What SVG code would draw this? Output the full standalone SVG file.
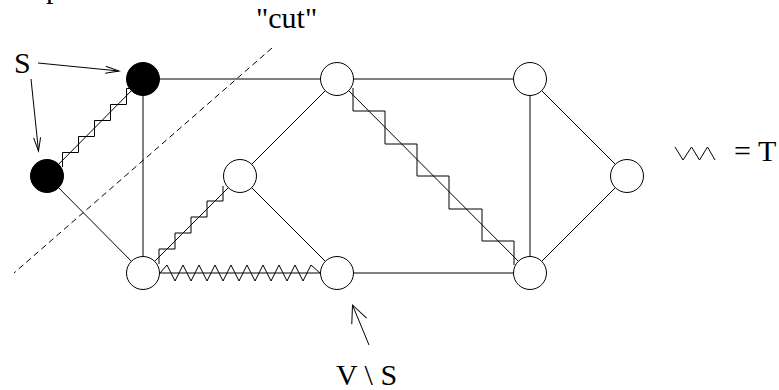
<svg xmlns="http://www.w3.org/2000/svg" width="779" height="390" viewBox="0 0 779 390">
  <style>
    .edge { stroke: #000; stroke-width: 1; fill: none; }
    .tree { stroke: #000; stroke-width: 1; fill: none; stroke-linejoin: miter; }
    .cut { stroke: #000; stroke-width: 1; fill: none; stroke-dasharray: 6 4; }
    .arrow { stroke: #000; stroke-width: 1; fill: none; }
    .node { stroke: #000; stroke-width: 1; fill: #fff; }
    .snode { stroke: #000; stroke-width: 1; fill: #000; }
    .lbl { font-family: "Liberation Serif", "Times New Roman", serif; font-size: 30px; fill: #000; }
  </style>
  <defs>
    <marker id="ah" markerUnits="userSpaceOnUse" viewBox="0 0 14 8" markerWidth="14" markerHeight="8" refX="13.5" refY="4" orient="auto" overflow="visible">
      <path d="M0,0.5 L13.5,4 L0,7.5" fill="none" stroke="#000" stroke-width="1"/>
    </marker>
    <marker id="ahBig" markerUnits="userSpaceOnUse" viewBox="0 0 18 16" markerWidth="18" markerHeight="16" refX="17.5" refY="8" orient="auto" overflow="visible">
      <path d="M0,0 L17.5,8 L0,16" fill="none" stroke="#000" stroke-width="1"/>
    </marker>
  </defs>

  <g id="connectors">
    <line class="edge" x1="143" y1="79" x2="337" y2="79"/>
    <line class="edge" x1="337" y1="79" x2="530" y2="79"/>
    <line class="edge" x1="143" y1="79" x2="143" y2="273"/>
    <line class="edge" x1="47" y1="176" x2="143" y2="79"/>
    <line class="edge" x1="47" y1="176" x2="143" y2="273"/>
    <line class="edge" x1="143" y1="273" x2="240" y2="176"/>
    <line class="edge" x1="143" y1="273" x2="337" y2="273"/>
    <line class="edge" x1="240" y1="176" x2="337" y2="273"/>
    <line class="edge" x1="240" y1="176" x2="337" y2="79"/>
    <line class="edge" x1="337" y1="79" x2="530" y2="273"/>
    <line class="edge" x1="337" y1="273" x2="530" y2="273"/>
    <line class="edge" x1="530" y1="79" x2="530" y2="273"/>
    <line class="edge" x1="530" y1="79" x2="627" y2="176"/>
    <line class="edge" x1="627" y1="176" x2="530" y2="273"/>
    <!-- spanning tree T (staircases and zigzag) -->
    <path class="tree" d="M62.5,167 V152.5 H78.5 V136.5 H94.5 V120.5 H110.5 V104.5 H126.5 V88.5 H131"/>
    <path class="tree" d="M159,264 V249 H175 V233 H191 V217 H207 V201 H223 V186"/>
    <path class="tree" d="M353,88 V111 H385 V144 H417 V176 H449 V209 H482 V241 H514 V265"/>
    <path class="tree" d="M160,273 L167,265 L175,281 L183,265 L191,281 L199,265 L207,281 L215,265 L223,281 L231,265 L239,281 L247,265 L255,281 L263,265 L271,281 L279,265 L287,281 L295,265 L303,281 L311,265 L320,273"/>
    <!-- cut -->
    <line class="cut" x1="272" y1="48" x2="14" y2="273"/>
    <!-- label arrows -->
    <line class="arrow" x1="38" y1="63" x2="119" y2="71" marker-end="url(#ah)"/>
    <line class="arrow" x1="31" y1="79" x2="38.5" y2="151" marker-end="url(#ah)"/>
    <line class="arrow" x1="369" y1="345" x2="352.5" y2="305" marker-end="url(#ahBig)"/>
  </g>

  <g id="nA"><circle class="snode" cx="143" cy="79" r="16.5"/></g>
  <g id="nB"><circle class="snode" cx="47" cy="176" r="16.5"/></g>
  <g id="nC"><circle class="node" cx="143" cy="273" r="16.5"/></g>
  <g id="nD"><circle class="node" cx="240" cy="176" r="16.5"/></g>
  <g id="nE"><circle class="node" cx="337" cy="273" r="16.5"/></g>
  <g id="nF"><circle class="node" cx="337" cy="79" r="16.5"/></g>
  <g id="nG"><circle class="node" cx="530" cy="79" r="16.5"/></g>
  <g id="nH"><circle class="node" cx="530" cy="273" r="16.5"/></g>
  <g id="nI"><circle class="node" cx="627" cy="176" r="16.5"/></g>

  <g id="labels">
    <text class="lbl" x="46" y="-2">p</text>
    <text class="lbl" x="14" y="73">S</text>
    <text class="lbl" x="256" y="28">"cut"</text>
    <text class="lbl" x="336" y="385">V \ S</text>
    <text class="lbl" x="734" y="161">= T</text>
  </g>
  <g id="legend">
    <polyline class="tree" points="675,147 683,160 691.5,147 699.5,160 707.5,147 715,160"/>
  </g>
</svg>
